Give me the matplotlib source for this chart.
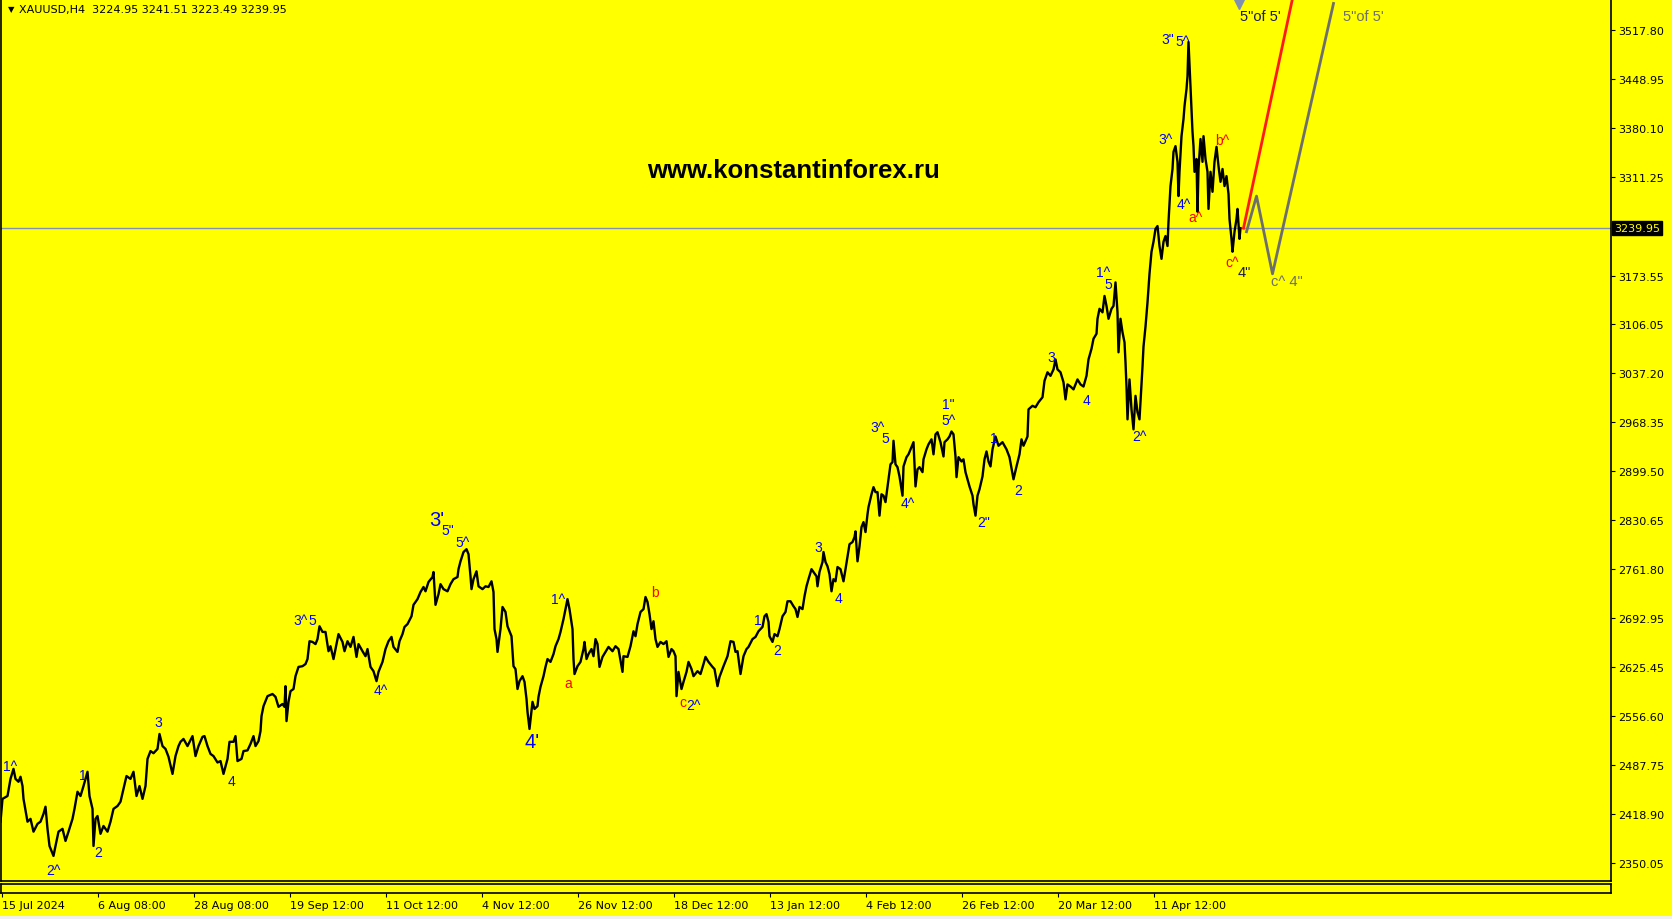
import matplotlib.pyplot as plt
from matplotlib.patches import Rectangle

YELLOW = '#ffff00'

# XAUUSD H4 path (bar index, price)
bar = [
    # Jul - Aug
    0, 2, 7, 10, 13, 15, 18, 20, 22, 23, 27, 30, 33, 37, 40, 43, 45, 47, 49, 53,
    55, 58, 62, 65, 68, 72, 74, 77, 80, 83, 85, 87, 89, 92, 93, 95, 97, 100, 103, 107,
    110, 113, 117, 120, 123, 126, 130, 133, 136, 139, 142, 145, 147, 150, 153, 157, 159, 162, 165, 168,
    172, 175, 178,
    # Aug - Oct
    180, 183, 187, 192, 195, 198, 202, 204, 207, 210, 213, 217, 220, 223, 227, 229, 233, 235, 237, 241,
    243, 247, 250, 253, 255, 258, 260, 261, 263, 267, 272, 275, 278, 282, 284, 285, 286, 288, 290, 293,
    295, 298, 302, 305, 307, 309, 312, 315, 317, 319, 322, 325, 328, 330, 333, 335, 338, 342, 344, 347,
    350, 353, 356, 358, 362, 365, 367,
    # Oct - Nov
    370, 373, 376, 378, 382, 385, 388, 391, 393, 397, 399, 402, 404, 407, 411, 413, 417, 420, 423, 425,
    428, 432, 433, 435, 438, 440, 443, 447, 450, 453, 457, 458, 460, 463, 466, 468, 470, 471, 473, 476,
    478, 482, 485, 488, 491, 493, 494, 496, 497, 500, 502, 505, 507, 509, 511, 513, 515, 517, 519, 522,
    524, 526, 527, 529, 532, 534, 537, 538, 540, 543, 545, 547, 550, 553, 555, 558, 560, 563, 565, 567,
    569,
    # Nov - Jan
    572, 573, 574, 577, 580, 583, 584, 586, 588, 591, 593, 595, 597, 599, 602, 605, 608, 612, 615, 618,
    622, 623, 627, 630, 633, 635, 637, 640, 643, 645, 647, 649, 651, 653, 655, 657, 660, 663, 666, 668,
    671, 673, 675, 676, 678, 681, 683, 686, 688, 691, 693, 697, 700, 703, 705, 708, 712, 714, 717, 719,
    723, 727, 730, 733, 735, 737, 740, 743, 746, 748, 752, 755, 758, 762, 764, 766, 768,
    # Jan - Mar
    769, 772, 774, 777, 779, 782, 785, 787, 790, 793, 795, 797, 799, 802, 804, 806, 808, 811, 813, 816,
    817, 819, 822, 823, 825, 827, 829, 831, 833, 835, 837, 840, 843, 845, 847, 849, 852, 854, 855, 857,
    859, 861, 863, 865, 867, 868, 871, 873, 875, 877, 879, 881, 883, 885, 887, 888, 890, 892, 893, 895,
    897, 899, 902, 903, 906, 908, 911, 913, 914, 915, 917, 919, 922, 923, 926, 928, 931, 933, 935, 937,
    940, 943, 944, 947, 949, 951, 953, 955, 956, 958, 961, 963, 965, 967, 969, 972, 973, 975, 977, 979,
    982, 984, 986, 988, 990,
    992, 995, 998, 1002, 1006, 1009, 1013, 1016, 1019, 1021,
    # Mar - Apr
    1023, 1027, 1028, 1032, 1035, 1038, 1042, 1044, 1047, 1050, 1053, 1055, 1057, 1060, 1063, 1065, 1067, 1070, 1073, 1075,
    1077, 1080, 1083, 1086, 1088, 1091, 1093, 1096, 1097, 1099, 1102, 1104, 1106, 1108, 1111, 1113, 1115, 1117, 1118, 1120,
    1122, 1124, 1125, 1126, 1127, 1129, 1131, 1133, 1135, 1137, 1139, 1142, 1143, 1145, 1147, 1149, 1151, 1153, 1155, 1157,
    1159, 1161, 1163, 1165, 1167, 1168, 1170, 1172, 1173, 1175, 1177, 1178, 1179, 1181, 1183, 1184, 1186, 1187, 1188, 1190,
    1192, 1193, 1194, 1196, 1197, 1198, 1200, 1202, 1203, 1205, 1207, 1208, 1210, 1212, 1214, 1216, 1218, 1220, 1222, 1224,
    1226, 1228, 1229, 1231, 1232, 1234, 1236, 1237, 1239, 1240,
]
price = [
    2408, 2440, 2444, 2468, 2482, 2468, 2464, 2471, 2458, 2440, 2408, 2412, 2394, 2405, 2408, 2419, 2429, 2398, 2374, 2360,
    2374, 2394, 2398, 2381, 2394, 2412, 2426, 2450, 2444, 2458, 2468, 2478, 2444, 2426, 2374, 2412, 2416, 2391, 2402, 2394,
    2408, 2426, 2430, 2436, 2454, 2472, 2468, 2478, 2444, 2458, 2440, 2458, 2496, 2507, 2504, 2510, 2531, 2514, 2510, 2499,
    2475, 2500, 2514,
    2520, 2524, 2514, 2528, 2500, 2514, 2527, 2528, 2514, 2503, 2500, 2491, 2493, 2475, 2496, 2520, 2520, 2528, 2493, 2496,
    2507, 2508, 2517, 2528, 2514, 2521, 2535, 2556, 2570, 2584, 2587, 2583, 2569, 2573, 2569, 2598, 2549, 2576, 2591, 2594,
    2612, 2625, 2626, 2629, 2636, 2661, 2660, 2657, 2664, 2682, 2674, 2674, 2647, 2654, 2636, 2650, 2671, 2660, 2647, 2661,
    2653, 2667, 2639, 2657, 2647, 2640, 2650,
    2625, 2619, 2605, 2618, 2632, 2650, 2661, 2667, 2653, 2646, 2661, 2671, 2681, 2685, 2696, 2712, 2720, 2730, 2737, 2731,
    2744, 2751, 2758, 2712, 2727, 2741, 2734, 2731, 2741, 2748, 2751, 2762, 2773, 2786, 2790, 2783, 2752, 2734, 2748, 2759,
    2738, 2734, 2738, 2737, 2745, 2730, 2678, 2664, 2646, 2678, 2709, 2702, 2682, 2675, 2668, 2626, 2622, 2594, 2605, 2612,
    2604, 2580, 2562, 2538, 2576, 2566, 2570, 2583, 2597, 2612, 2625, 2636, 2632, 2643, 2654, 2664, 2674, 2692, 2706, 2720,
    2706,
    2678, 2636, 2615, 2626, 2632, 2650, 2660, 2636, 2643, 2650, 2640, 2664, 2657, 2625, 2639, 2646, 2653, 2647, 2654, 2650,
    2618, 2640, 2639, 2654, 2675, 2668, 2685, 2702, 2706, 2723, 2716, 2699, 2678, 2689, 2664, 2653, 2660, 2657, 2661, 2639,
    2650, 2647, 2640, 2584, 2618, 2594, 2604, 2618, 2632, 2622, 2612, 2619, 2615, 2629, 2639, 2632, 2625, 2622, 2598, 2611,
    2626, 2640, 2661, 2660, 2646, 2647, 2615, 2640, 2650, 2653, 2664, 2667, 2675, 2681, 2696, 2699, 2688,
    2668, 2660, 2671, 2668, 2678, 2696, 2702, 2717, 2717, 2710, 2706, 2695, 2709, 2706, 2724, 2738, 2748, 2762, 2758, 2752,
    2738, 2758, 2772, 2786, 2772, 2766, 2755, 2731, 2748, 2745, 2765, 2762, 2745, 2762, 2780, 2797, 2800, 2807, 2815, 2773,
    2794, 2821, 2828, 2814, 2839, 2849, 2867, 2877, 2870, 2870, 2837, 2867, 2865, 2856, 2878, 2888, 2909, 2912, 2942, 2909,
    2905, 2892, 2865, 2906, 2919, 2923, 2933, 2940, 2909, 2878, 2902, 2905, 2898, 2916, 2930, 2937, 2944, 2923, 2951, 2954,
    2940, 2920, 2940, 2944, 2948, 2955, 2951, 2920, 2891, 2919, 2913, 2916, 2898, 2888, 2878, 2865, 2853, 2837, 2865, 2874,
    2892, 2916, 2927, 2913, 2906,
    2930, 2948, 2935, 2940, 2930, 2919, 2888, 2906, 2923, 2944,
    2935, 2948, 2986, 2991, 2989, 2996, 3003, 3026, 3038, 3033, 3042, 3056, 3042, 3038, 3024, 3000, 3021, 3018, 3014, 3021,
    3028, 3021, 3018, 3033, 3056, 3071, 3085, 3092, 3113, 3127, 3122, 3145, 3131, 3113, 3127, 3131, 3164, 3122, 3066, 3113,
    3094, 3080, 3052, 3018, 2972, 3028, 2986, 2958, 3005, 2982, 2972, 3046, 3074, 3102, 3136, 3176, 3207, 3221, 3239, 3243,
    3215, 3197, 3221, 3229, 3215, 3249, 3299, 3323, 3347, 3355, 3333, 3285, 3319, 3369, 3393, 3411, 3435, 3453, 3501, 3439,
    3375, 3355, 3319, 3337, 3263, 3323, 3365, 3333, 3369, 3337, 3319, 3267, 3319, 3291, 3333, 3354, 3327, 3305, 3323, 3299,
    3313, 3288, 3253, 3225, 3207, 3235, 3253, 3267, 3225, 3240,
]

# forecast paths
red_bar = [1243, 1294]
red_price = [3240, 3575]
gray_bar = [1246, 1256, 1272, 1333]
gray_price = [3235, 3285, 3176, 3555]

last_price = 3239.95
header = 'XAUUSD,H4  3224.95 3241.51 3223.49 3239.95'

price_ticks = [3517.80, 3448.95, 3380.10, 3311.25, 3173.55, 3106.05, 3037.20, 2968.35, 2899.50,
               2830.65, 2761.80, 2692.95, 2625.45, 2556.60, 2487.75, 2418.90, 2350.05]
date_ticks = [1, 97, 193, 289, 385, 481, 577, 673, 769, 865, 961, 1057, 1153]
date_labels = ['15 Jul 2024', '6 Aug 08:00', '28 Aug 08:00', '19 Sep 12:00', '11 Oct 12:00',
               '4 Nov 12:00', '26 Nov 12:00', '18 Dec 12:00', '13 Jan 12:00', '4 Feb 12:00',
               '26 Feb 12:00', '20 Mar 12:00', '11 Apr 12:00']

# wave marks (bar, price, text)
blue_marks = [(10, 2486, '1^'), (53, 2340, '2^'), (82, 2473, '1'), (98, 2365, '2'), (158, 2548, '3'),
              (231, 2465, '4'), (300, 2691, '3^'), (312, 2691, '5'), (380, 2593, '4^'), (447, 2817, '5"'),
              (462, 2800, '5^'), (558, 2720, '1^'), (693, 2571, '2^'), (757, 2691, '1'), (777, 2649, '2'),
              (818, 2793, '3'), (838, 2722, '4'), (877, 2961, '3^'), (885, 2946, '5'), (907, 2855, '4^'),
              (948, 2993, '1"'), (948, 2971, '5^'), (983, 2828, '2"'), (993, 2946, '1'), (1018, 2873, '2'),
              (1051, 3060, '3'), (1086, 2999, '4'), (1103, 3179, '1^'), (1108, 3162, '5'), (1139, 2949, '2^'),
              (1167, 3505, '3"'), (1182, 3502, '5^'), (1165, 3365, '3^'), (1183, 3274, '4^')]
big_marks = [(436, 2832, "3'"), (532, 2521, "4'")]
red_marks = [(568, 2602, 'a'), (654, 2730, 'b'), (682, 2576, 'c'),
             (1195, 3256, 'a^'), (1222, 3364, 'b^'), (1232, 3193, 'c^')]
dark_marks = [(1244, 3179, '4"'), (1260, 3537, '5"of 5\'')]
gray_marks = [(1363, 3537, '5"of 5\''), (1286, 3166, 'c^ 4"')]

plt.rcParams['font.family'] = 'DejaVu Sans'
fig = plt.figure(figsize=(16.72, 9.2), dpi=100, facecolor=YELLOW)

ax = fig.add_axes([0.0003, 38 / 920, 1610 / 1672, 882 / 920])
ax.set_facecolor(YELLOW)
ax.set_xlim(0, 1610)
ax.set_ylim(2324.87, 3561.26)
for s in ax.spines.values():
    s.set_color('black')
    s.set_linewidth(1.2)

ax.axhline(last_price, color='#8090b8', lw=1, zorder=1)
ax.plot(bar, price, color='black', lw=1.7, zorder=3)
ax.plot(red_bar, red_price, color='#ff1a1a', lw=2, zorder=4)
ax.plot(gray_bar, gray_price, color='#6e6e6e', lw=2, zorder=4)
ax.plot([1238], [3556], marker='v', color='#8090b0', markersize=9, clip_on=True, zorder=5)

lab = dict(ha='center', va='center', family='Liberation Sans', zorder=6)
for x, y, t in blue_marks:
    ax.text(x, y, t, color='#0000ff', fontsize=10, **lab)
for x, y, t in big_marks:
    ax.text(x, y, t, color='#0000ff', fontsize=14.5, **lab)
for x, y, t in red_marks:
    ax.text(x, y, t, color='#ff0000', fontsize=10, **lab)
for x, y, t in dark_marks:
    ax.text(x, y, t, color='#1a1a55', fontsize=10.5, **lab)
for x, y, t in gray_marks:
    ax.text(x, y, t, color='#6e6e6e', fontsize=10.5, **lab)

ax.text(0.4925, 0.806, 'www.konstantinforex.ru', transform=ax.transAxes, ha='center', va='center',
        fontsize=18.5, fontweight='bold', family='Liberation Sans', color='black')

ax.yaxis.tick_right()
ax.set_yticks(price_ticks)
ax.set_yticklabels([f'{v:.2f}' for v in price_ticks])
ax.tick_params(axis='y', direction='out', length=3, width=0.8, pad=2.5, labelsize=8, colors='black')
ax.tick_params(axis='x', bottom=False, labelbottom=False)

ax.text(1.002, last_price, f'{last_price:.2f}', transform=ax.get_yaxis_transform(), ha='left',
        va='center', fontsize=8, color=YELLOW,
        bbox=dict(boxstyle='square,pad=0.18', fc='black', ec='black'))

sub = fig.add_axes([0.0003, 26 / 920, 1610 / 1672, 9 / 920])
sub.set_facecolor(YELLOW)
sub.set_xlim(0, 1610)
sub.set_yticks([])
for s in sub.spines.values():
    s.set_color('black')
    s.set_linewidth(1.2)
sub.set_xticks(date_ticks)
sub.set_xticklabels(date_labels, ha='left')
sub.tick_params(axis='x', direction='out', length=3, width=0.8, pad=2, labelsize=8, colors='black')

fig.text(8 / 1672, 1 - 10 / 920, '\u25bc', fontsize=6, va='center', ha='left', color='black')
fig.text(19 / 1672, 1 - 10 / 920, header, fontsize=8, va='center', ha='left', color='black')
fig.patches.append(Rectangle((0, 0), 1, 3.5 / 920, transform=fig.transFigure, fc='#f0f0f0', ec='none'))

fig.savefig('out.png', dpi=100, facecolor=YELLOW)
